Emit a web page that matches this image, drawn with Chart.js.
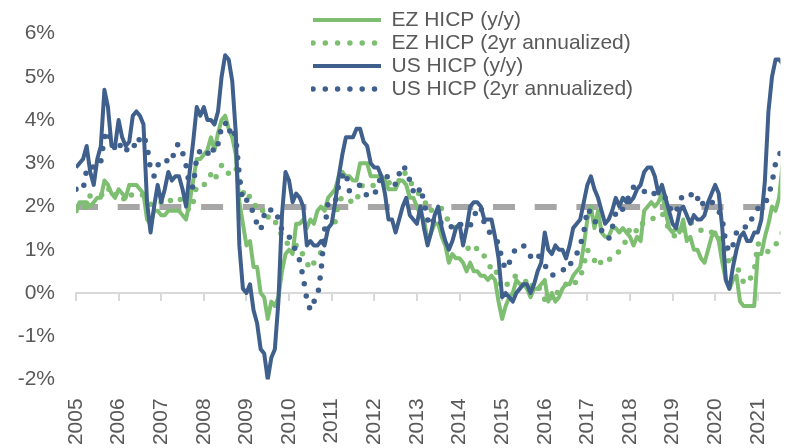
<!DOCTYPE html>
<html>
<head>
<meta charset="utf-8">
<title>EZ vs US HICP</title>
<script src="https://cdn.jsdelivr.net/npm/chart.js@4.4.1/dist/chart.umd.min.js"></script>
<style>
  html, body { margin: 0; padding: 0; background: #fff; }
  #wrap { width: 802px; height: 448px; position: relative; }
</style>
</head>
<body>
<div id="wrap"><canvas id="chart"></canvas></div>
<script>
// monthly series, Jan 2005 .. Aug 2021 (one row per year)
const EZ_YY = [
  1.9, 2.1, 2.1, 2.1, 2.0, 2.1, 2.2, 2.2, 2.6, 2.5, 2.3, 2.2,
  2.4, 2.3, 2.2, 2.5, 2.5, 2.5, 2.4, 2.3, 1.7, 1.6, 1.9, 1.9,
  1.8, 1.8, 1.9, 1.9, 1.9, 1.9, 1.8, 1.7, 2.1, 2.6, 3.1, 3.1,
  3.2, 3.3, 3.6, 3.3, 3.7, 4.0, 4.1, 3.8, 3.6, 3.2, 2.1, 1.6,
  1.1, 1.2, 0.6, 0.6, 0.0, -0.1, -0.6, -0.2, -0.3, -0.1, 0.5, 0.9,
  1.0, 0.9, 1.6, 1.6, 1.7, 1.5, 1.7, 1.6, 1.9, 2.0, 1.9, 2.2,
  2.3, 2.4, 2.7, 2.8, 2.7, 2.7, 2.6, 2.6, 3.0, 3.0, 3.0, 2.7,
  2.7, 2.7, 2.7, 2.6, 2.4, 2.4, 2.4, 2.6, 2.6, 2.5, 2.2, 2.2,
  2.0, 1.8, 1.7, 1.2, 1.4, 1.6, 1.6, 1.3, 1.1, 0.7, 0.9, 0.8,
  0.8, 0.7, 0.5, 0.7, 0.5, 0.5, 0.4, 0.4, 0.3, 0.4, 0.3, -0.2,
  -0.6, -0.3, -0.1, 0.0, 0.3, 0.2, 0.2, 0.1, -0.1, 0.1, 0.1, 0.2,
  0.3, -0.2, 0.0, -0.2, -0.1, 0.1, 0.2, 0.2, 0.4, 0.5, 0.6, 1.1,
  1.7, 2.0, 1.5, 1.9, 1.4, 1.3, 1.3, 1.5, 1.5, 1.4, 1.5, 1.4,
  1.3, 1.1, 1.3, 1.2, 1.9, 2.0, 2.1, 2.0, 2.1, 2.3, 1.9, 1.5,
  1.4, 1.5, 1.4, 1.7, 1.2, 1.3, 1.0, 1.0, 0.8, 0.7, 1.0, 1.3,
  1.4, 1.2, 0.7, 0.3, 0.1, 0.3, 0.4, -0.2, -0.3, -0.3, -0.3, -0.3,
  0.9, 0.9, 1.3, 1.6, 2.0, 1.9, 2.2, 3.0
];
const EZ_2Y = [
  1.9, 1.85, 1.9, 2.05, 2.25, 2.25, 2.25, 2.25, 2.35, 2.45, 2.25, 2.3,
  2.15, 2.2, 2.15, 2.3, 2.25, 2.3, 2.3, 2.25, 2.15, 2.05, 2.1, 2.05,
  2.1, 2.05, 2.05, 2.2, 2.2, 2.2, 2.1, 2.0, 1.9, 2.1, 2.5, 2.5,
  2.5, 2.55, 2.75, 2.6, 2.8, 2.95, 2.95, 2.75, 2.85, 2.9, 2.6, 2.35,
  2.15, 2.25, 2.1, 1.95, 1.85, 1.95, 1.75, 1.8, 1.65, 1.55, 1.3, 1.25,
  1.05, 1.05, 1.1, 1.1, 0.85, 0.7, 0.55, 0.7, 0.8, 0.95, 1.2, 1.55,
  1.65, 1.65, 2.15, 2.2, 2.2, 2.1, 2.15, 2.1, 2.45, 2.5, 2.45, 2.45,
  2.5, 2.55, 2.7, 2.7, 2.55, 2.55, 2.5, 2.6, 2.8, 2.75, 2.6, 2.45,
  2.35, 2.25, 2.2, 1.9, 1.9, 2.0, 2.0, 1.95, 1.85, 1.6, 1.55, 1.5,
  1.4, 1.25, 1.1, 0.95, 0.95, 1.05, 1.0, 0.85, 0.7, 0.55, 0.6, 0.3,
  0.1, 0.2, 0.2, 0.35, 0.4, 0.35, 0.3, 0.25, 0.1, 0.25, 0.2, 0.0,
  -0.15, -0.25, -0.05, -0.1, 0.1, 0.15, 0.2, 0.15, 0.15, 0.3, 0.35, 0.65,
  1.0, 0.9, 0.75, 0.85, 0.65, 0.7, 0.75, 0.85, 0.95, 0.95, 1.05, 1.25,
  1.5, 1.55, 1.4, 1.55, 1.65, 1.65, 1.7, 1.75, 1.8, 1.85, 1.7, 1.45,
  1.35, 1.3, 1.35, 1.45, 1.55, 1.65, 1.55, 1.5, 1.45, 1.5, 1.45, 1.4,
  1.4, 1.35, 1.05, 1.0, 0.65, 0.8, 0.7, 0.4, 0.25, 0.2, 0.35, 0.5,
  1.15, 1.05, 1.0, 0.95, 1.05, 1.1, 1.3, 1.4
];
const US_YY = [
  2.9, 3.0, 3.1, 3.4, 2.8, 2.5, 3.1, 3.4, 4.7, 4.3, 3.4, 3.4,
  4.0, 3.6, 3.4, 3.5, 4.1, 4.2, 4.1, 3.9, 2.1, 1.4, 2.0, 2.5,
  2.1, 2.4, 2.8, 2.6, 2.7, 2.7, 2.4, 2.0, 2.8, 3.5, 4.3, 4.1,
  4.3, 4.0, 4.0, 3.9, 4.2, 5.0, 5.5, 5.4, 4.9, 3.7, 1.1, 0.1,
  0.0, 0.2, -0.4, -0.7, -1.3, -1.4, -2.0, -1.5, -1.3, -0.2, 1.8, 2.8,
  2.6, 2.1, 2.3, 2.2, 2.0, 1.1, 1.2, 1.1, 1.1, 1.2, 1.1, 1.5,
  1.6, 2.1, 2.7, 3.2, 3.6, 3.6, 3.6, 3.8, 3.8, 3.5, 3.4, 3.0,
  2.9, 2.9, 2.7, 2.3, 1.7, 1.7, 1.4, 1.7, 2.0, 2.2, 1.8, 1.7,
  1.6, 2.0, 1.5, 1.1, 1.4, 1.8, 2.0, 1.5, 1.2, 1.0, 1.2, 1.5,
  1.6, 1.1, 1.5, 2.0, 2.1, 2.1, 2.0, 1.7, 1.7, 1.7, 1.3, 0.8,
  -0.1, 0.0, -0.1, -0.2, 0.0, 0.1, 0.2, 0.2, 0.0, 0.2, 0.5, 0.7,
  1.4, 1.0, 0.9, 1.1, 1.0, 1.0, 0.8, 1.1, 1.5, 1.6, 1.7, 2.1,
  2.5, 2.7, 2.4, 2.2, 1.9, 1.6, 1.7, 1.9, 2.2, 2.0, 2.2, 2.1,
  2.1, 2.2, 2.4, 2.5, 2.8, 2.9, 2.9, 2.7, 2.3, 2.5, 2.2, 1.9,
  1.6, 1.5, 1.9, 2.0, 1.8, 1.6, 1.8, 1.7, 1.7, 1.8, 2.1, 2.3,
  2.5, 2.3, 1.5, 0.3, 0.1, 0.6, 1.0, 1.3, 1.4, 1.2, 1.2, 1.4,
  1.4, 1.7, 2.6, 4.2, 5.0, 5.4, 5.4, 5.3
];
const US_2Y = [
  2.4, 2.35, 2.4, 2.85, 2.95, 2.9, 3.05, 3.05, 3.6, 3.75, 3.45, 3.35,
  3.5, 3.3, 3.25, 3.45, 3.45, 3.35, 3.6, 3.65, 3.4, 2.85, 2.7, 2.95,
  3.05, 3.0, 3.1, 3.05, 3.4, 3.45, 3.25, 2.95, 2.45, 2.45, 3.15, 3.3,
  3.2, 3.2, 3.4, 3.25, 3.45, 3.85, 3.95, 3.7, 3.85, 3.6, 2.7, 2.1,
  2.15, 2.1, 1.8, 1.6, 1.45, 1.8, 1.75, 1.95, 1.8, 1.75, 1.45, 1.4,
  1.3, 1.15, 0.95, 0.75, 0.35, -0.15, -0.4, -0.2, -0.1, 0.5, 1.45, 2.1,
  2.1, 2.1, 2.5, 2.7, 2.8, 2.35, 2.4, 2.45, 2.5, 2.35, 2.25, 2.25,
  2.25, 2.5, 2.7, 2.75, 2.65, 2.65, 2.5, 2.75, 2.95, 2.85, 2.6, 2.35,
  2.25, 2.45, 2.1, 1.7, 1.55, 1.75, 1.7, 1.6, 1.6, 1.6, 1.5, 1.6,
  1.6, 1.55, 1.5, 1.55, 1.75, 1.95, 2.0, 1.6, 1.45, 1.35, 1.25, 1.15,
  0.75, 0.55, 0.7, 0.9, 1.05, 1.1, 1.1, 0.95, 0.85, 0.95, 0.9, 0.75,
  0.65, 0.5, 0.4, 0.45, 0.5, 0.55, 0.5, 0.65, 0.75, 0.9, 1.1, 1.4,
  1.95, 1.85, 1.65, 1.65, 1.45, 1.3, 1.25, 1.5, 1.85, 1.8, 1.95, 2.1,
  2.3, 2.45, 2.4, 2.35, 2.35, 2.25, 2.3, 2.3, 2.25, 2.25, 2.2, 2.0,
  1.85, 1.85, 2.15, 2.25, 2.3, 2.25, 2.35, 2.2, 2.0, 2.15, 2.15, 2.1,
  2.05, 1.9, 1.7, 1.15, 0.95, 1.1, 1.4, 1.5, 1.55, 1.5, 1.65, 1.85,
  1.95, 2.0, 2.05, 2.25, 2.55, 3.0, 3.2, 3.3
];

const START_YEAR = 2005;
const X_MAX = 2021.53;          // picture is cut just after mid-2021
const Y_TICKS = [-2, -1, 0, 1, 2, 3, 4, 5, 6];
const TARGET = 2;                // 2% line
const MONTHS = EZ_YY.map((_, i) => START_YEAR + i / 12);

const GREEN = '#7DBE71';
const BLUE = '#3F5F8C';
const TEXT = '#595959';

Chart.defaults.font.family = "'Liberation Sans', Arial, sans-serif";
Chart.defaults.font.size = 21;
Chart.defaults.color = TEXT;

// legend sits inside the plot, near the top middle
const legendInPlot = {
  id: 'legendInPlot',
  afterLayout(chart) {
    chart.legend.left = 311;
    chart.legend.top = 7.5;
  }
};

function line(label, data, color, dotted, order) {
  return {
    label, data, order,
    borderColor: color,
    backgroundColor: color,
    borderWidth: dotted ? 5.5 : 4,
    borderDash: dotted ? [0, 12.3] : [],
    borderCapStyle: dotted ? 'round' : 'butt',
    borderJoinStyle: 'round',
    pointRadius: 0,
    tension: 0,
    fill: false
  };
}

// legend samples: same dash / cap / width as the series, in dataset order
function legendItems(chart) {
  const items = Chart.defaults.plugins.legend.labels.generateLabels(chart);
  items.forEach(it => {
    const ds = chart.data.datasets[it.datasetIndex];
    it.lineDash = ds.borderDash;
    it.lineCap = ds.borderCapStyle;
    it.lineWidth = ds.borderWidth;
    it.strokeStyle = ds.borderColor;
  });
  return items.sort((a, b) => a.datasetIndex - b.datasetIndex);
}

new Chart(document.getElementById('chart'), {
  type: 'line',
  data: {
    labels: MONTHS,
    datasets: [
      line('EZ HICP (y/y)', EZ_YY, GREEN, false, 4),
      line('EZ HICP (2yr annualized)', EZ_2Y, GREEN, true, 3),
      line('US HICP (y/y)', US_YY, BLUE, false, 2),
      line('US HICP (2yr annualized)', US_2Y, BLUE, true, 1)
    ]
  },
  options: {
    responsive: true,
    maintainAspectRatio: false,
    animation: false,
    layout: { padding: { top: 30, left: 0, right: 0, bottom: 0 } },
    plugins: {
      tooltip: { enabled: false },
      legend: {
        position: 'chartArea',
        align: 'start',
        labels: {
          usePointStyle: true,
          pointStyle: 'line',
          pointStyleWidth: 68,
          padding: 2,
          color: TEXT,
          font: { size: 21 },
          generateLabels: legendItems
        }
      }
    },
    scales: {
      x: {
        type: 'linear',
        min: START_YEAR,
        max: X_MAX,
        grid: { display: false, drawTicks: false },
        border: { display: false },
        ticks: {
          stepSize: 1,
          includeBounds: false,
          autoSkip: false,
          minRotation: 90,
          maxRotation: 90,
          padding: 19,
          callback: v => String(v)
        },
        afterFit: s => { s.height = 68.6; }
      },
      // axis line + year tick marks drawn on the 0% level
      x0: {
        type: 'linear',
        position: { y: 0 },
        min: START_YEAR,
        max: X_MAX,
        grid: { drawOnChartArea: false, drawTicks: true, tickLength: 7, color: '#D9D9D9', lineWidth: 2 },
        border: { display: true, color: '#D9D9D9', width: 2 },
        ticks: { display: false, stepSize: 1, includeBounds: false }
      },
      y: {
        min: Y_TICKS[0],
        max: Y_TICKS[Y_TICKS.length - 1],
        afterBuildTicks: s => { s.ticks = Y_TICKS.map(v => ({ value: v })); },
        grid: {
          drawTicks: false,
          color: c => c.tick && c.tick.value === TARGET ? '#A6A6A6' : 'rgba(0,0,0,0)',
          lineWidth: c => c.tick && c.tick.value === TARGET ? 6 : 0
        },
        border: { display: false, dash: [22, 19.7] },
        ticks: { padding: 21, callback: v => v + '%' },
        afterFit: s => { s.width = 76; }
      }
    }
  },
  plugins: [legendInPlot]
});
</script>
</body>
</html>
